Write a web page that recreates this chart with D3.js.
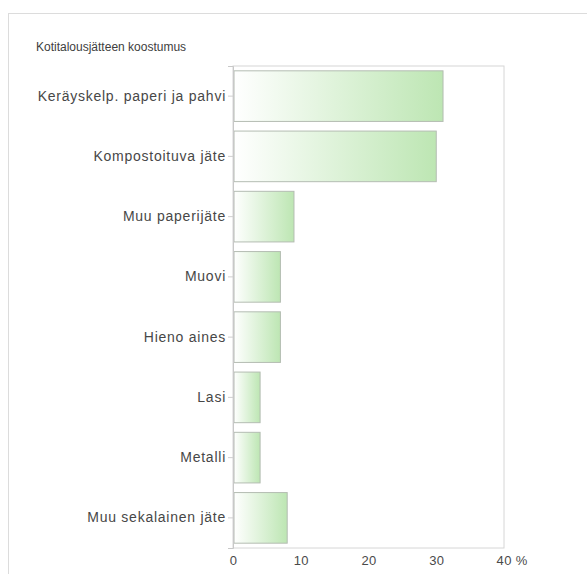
<!DOCTYPE html>
<html>
<head>
<meta charset="utf-8">
<script src="https://cdn.jsdelivr.net/npm/d3@7"></script>
<style>
  html, body { margin: 0; padding: 0; background: #fff; }
  svg { display: block; font-family: "Liberation Sans", Arial, sans-serif; }
</style>
</head>
<body>
<svg id="chart" width="587" height="574"></svg>
<script>
// Household waste composition, % by weight
const categories = [
  "Keräyskelp. paperi ja pahvi",
  "Kompostoituva jäte",
  "Muu paperijäte",
  "Muovi",
  "Hieno aines",
  "Lasi",
  "Metalli",
  "Muu sekalainen jäte"
];
const shares = [31, 30, 9, 7, 7, 4, 4, 8];
const xTicks = [0, 10, 20, 30, 40];
const title = "Kotitalousjätteen koostumus";

const svg = d3.select("#chart");

// outer panel frame
svg.append("rect")
  .attr("x", 8.5).attr("y", 13.5)
  .attr("width", 600).attr("height", 600)
  .attr("fill", "none").attr("stroke", "#dcdcdc");

svg.append("text")
  .attr("x", 36).attr("y", 51)
  .attr("font-size", 12).attr("fill", "#404040")
  .text(title);

const margin = { left: 233, right: 83, top: 66, bottom: 26 };
const W = 587, H = 574;

const x = d3.scaleLinear().domain([0, 40]).range([margin.left, W - margin.right]);
const y = d3.scaleBand().domain(categories)
  .range([margin.top, H - margin.bottom]).paddingInner(0.16).paddingOuter(0.08);

// bar fill: white on the left fading into light green
const defs = svg.append("defs");
const grad = defs.append("linearGradient").attr("id", "barFill")
  .attr("x1", "0").attr("x2", "1").attr("y1", "0").attr("y2", "0");
grad.append("stop").attr("offset", "0%").attr("stop-color", "#ffffff");
grad.append("stop").attr("offset", "100%").attr("stop-color", "#bde6b3");

// plot frame
svg.append("rect")
  .attr("x", x(0)).attr("y", margin.top)
  .attr("width", x(40) - x(0)).attr("height", H - margin.bottom - margin.top)
  .attr("fill", "none").attr("stroke", "#d6d6d6");

svg.append("g").selectAll("rect").data(categories).join("rect")
  .attr("x", x(0) + 1)
  .attr("y", d => y(d))
  .attr("width", (d, i) => x(shares[i]) - x(0) - 1)
  .attr("height", y.bandwidth())
  .attr("fill", "url(#barFill)")
  .attr("stroke", "#b4bcb2").attr("stroke-width", 1);

// category axis
const yAxis = svg.append("g")
  .attr("transform", `translate(${x(0)},0)`)
  .call(d3.axisLeft(y).tickSize(5).tickPadding(2));
yAxis.select(".domain").attr("stroke", "#c8c8c8");
yAxis.selectAll(".tick line").attr("stroke", "#cfcfcf");
yAxis.selectAll(".tick text").attr("font-size", 14).attr("fill", "#474747")
  .attr("letter-spacing", 0.75)
  .attr("font-family", "Liberation Sans, Arial, sans-serif");

// value axis
const xAxis = svg.append("g")
  .attr("transform", `translate(0,${H - margin.bottom})`)
  .call(d3.axisBottom(x).tickValues(xTicks).tickSize(0).tickPadding(8)
    .tickFormat(d => d === 40 ? "40 %" : d));
xAxis.select(".domain").remove();
xAxis.selectAll(".tick text").attr("font-size", 13).attr("fill", "#4a4a4a")
  .attr("letter-spacing", 0.4)
  .attr("font-family", "Liberation Sans, Arial, sans-serif")
  .attr("text-anchor", d => d === 40 ? "start" : "middle")
  .attr("dx", d => d === 40 ? -8 : 0);
</script>
</body>
</html>
